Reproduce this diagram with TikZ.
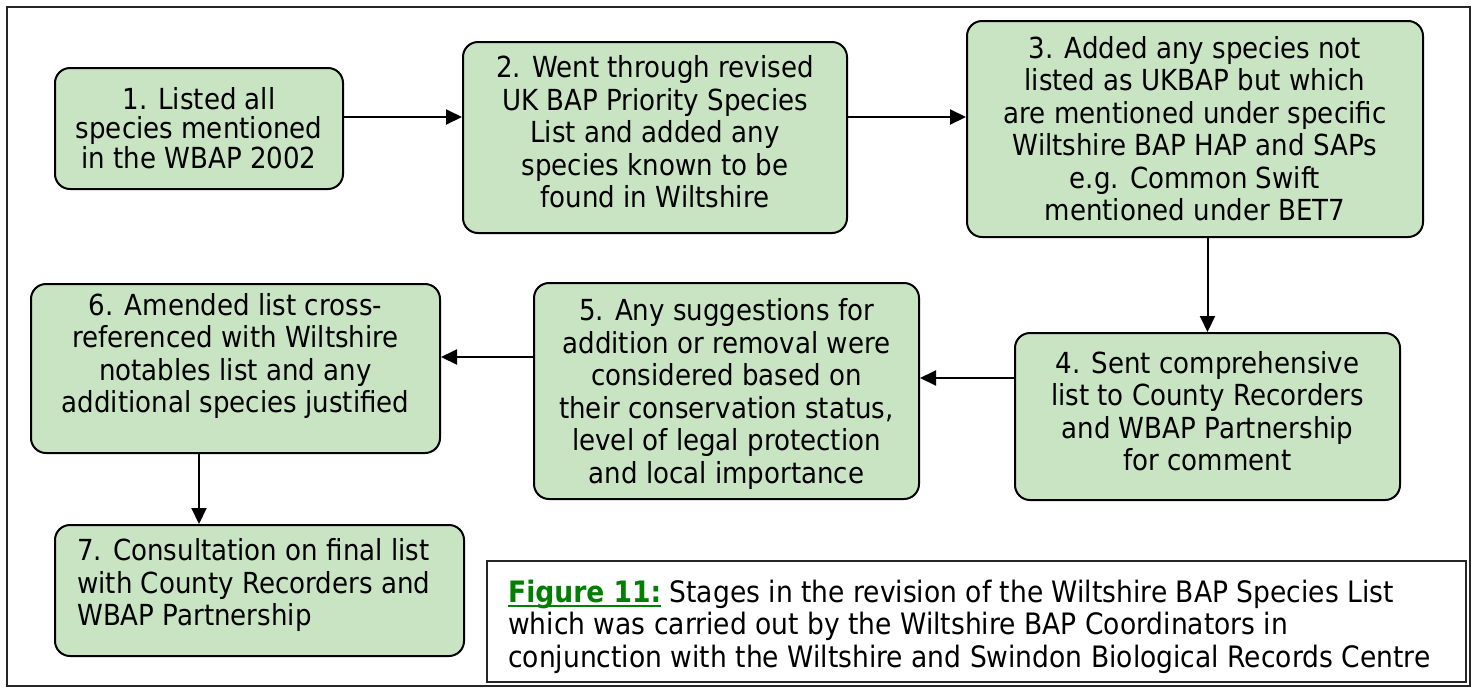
\documentclass[tikz,border=0pt]{standalone}
\usepackage{fontspec}
\setmainfont{DejaVu Sans}[FakeStretch=0.9]
\usetikzlibrary{arrows.meta}
\definecolor{boxgreen}{RGB}{201,228,195}
\definecolor{figgreen}{RGB}{0,128,0}
\newcommand{\myfigul}[1]{\setbox0\hbox{#1}\rlap{\rule[-4.5pt]{\wd0}{2pt}}\box0}
\tikzset{
  stepbox/.style={draw=black, line width=2pt, fill=boxgreen, rounded corners=15pt, inner sep=0pt},
  steptext/.style={align=center, inner sep=0pt, font=\fontsize{29}{32.5}\selectfont},
  arr/.style={line width=2pt, -{Triangle[length=16pt,width=15pt]}},
  frame/.style={line width=2pt, draw=black!85},
}
\begin{document}
\begin{tikzpicture}[x=1pt,y=-1pt]
\useasboundingbox (0,0) rectangle (1473,689);
\draw[frame] (7,7) rectangle (1470,686);

\node[stepbox, minimum width=288pt, minimum height=121pt] (b1) at (199,128.5) {};
\node[stepbox, minimum width=384pt, minimum height=191pt] (b2) at (655,137.5) {};
\node[stepbox, minimum width=456pt, minimum height=216pt] (b3) at (1195,129) {};
\node[stepbox, minimum width=385pt, minimum height=167pt] (b4) at (1207.5,416.5) {};
\node[stepbox, minimum width=385pt, minimum height=216pt] (b5) at (726.5,391) {};
\node[stepbox, minimum width=409pt, minimum height=169pt] (b6) at (235.5,368.5) {};
\node[stepbox, minimum width=409pt, minimum height=131pt] (b7) at (259.5,590.5) {};

\node[steptext, font=\fontsize{29}{29.5}\selectfont] (t1) at (199,128) {1. Listed all\\species mentioned\\in the WBAP 2002};
\node[steptext] (t2) at (655,132) {2. Went through revised\\UK BAP Priority Species\\List and added any\\species known to be\\found in Wiltshire};
\node[steptext] (t3) at (1195,128.5) {3. Added any species not\\listed as UKBAP but which\\are mentioned under specific\\Wiltshire BAP HAP and SAPs\\e.g. Common Swift\\mentioned under BET7};
\node[steptext] (t4) at (1207.5,411) {4. Sent comprehensive\\list to County Recorders\\and WBAP Partnership\\for comment};
\node[steptext] (t5) at (726.5,394) {5. Any suggestions for\\addition or removal were\\considered based on\\their conservation status,\\level of legal protection\\and local importance};
\node[steptext] (t6) at (235.5,356) {6. Amended list cross-\\referenced with Wiltshire\\notables list and any\\additional species justified};
\node[steptext, align=left, anchor=west] (t7) at (77,585) {7. Consultation on final list\\with County Recorders and\\WBAP Partnership};

\draw[arr] ([yshift=11.5pt]b1.east) -- ([yshift=20.5pt]b2.west);
\draw[arr] ([yshift=20.5pt]b2.east) -- ([yshift=12pt]b3.west);
\draw[arr] (b3.south -| b4.north) -- (b4.north);
\draw[arr] ([yshift=38.5pt]b4.west) -- ([yshift=13pt]b5.east);
\draw[arr] ([yshift=34pt]b5.west) -- ([yshift=11.5pt]b6.east);
\draw[arr] ([xshift=-36.5pt]b6.south) -- ([xshift=-60.5pt]b7.north);

\node[frame, draw, minimum width=979pt, minimum height=121pt, inner sep=0pt] (cap) at (976.5,621.5) {};
\node[align=left, anchor=west, inner sep=0pt, font=\fontsize{29.5}{32.5}\selectfont] (captext) at (508,626.5)
  {\textcolor{figgreen}{\myfigul{\textbf{Figure 11:}}} Stages in the revision of the Wiltshire BAP Species List\\which was carried out by the Wiltshire BAP Coordinators in\\conjunction with the Wiltshire and Swindon Biological Records Centre};
\end{tikzpicture}
\end{document}
